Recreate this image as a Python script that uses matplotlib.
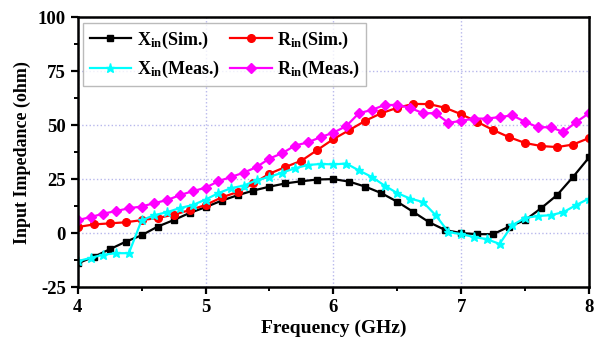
import matplotlib

matplotlib.use("Agg")
import matplotlib.pyplot as plt
from matplotlib.ticker import MultipleLocator

# simulated curves, 0.125 GHz step
freq_sim = [4 + 0.125 * i for i in range(33)]
x_sim = [-14, -11, -7.5, -4, -1, 3, 6, 9.3, 12, 15, 17.5, 19.7, 21.5, 23, 24, 24.8, 25,
         23.8, 21.5, 18.5, 14.5, 9.8, 5, 1.4, 0, -0.5, -0.5, 3, 6, 11.5, 17.6, 26, 35]
r_sim = [2.8, 4, 4.5, 5, 6, 7, 8.5, 10.6, 13, 16.5, 19, 23, 27.5, 30.6, 33.5, 38.5, 43.5,
         47.7, 52, 55.5, 58, 59.8, 59.7, 58, 55, 51.5, 47.7, 44.4, 41.7, 40.3, 39.8, 41, 44]

# measured curves, 0.1 GHz step
freq_meas = [round(4 + 0.1 * i, 1) for i in range(41)]
x_meas = [-13, -11.5, -10, -9.3, -9.3, 6, 8.3, 9.7, 11.6, 13, 15.5, 18.5, 20.8, 22, 24.5,
          26, 28, 30, 31.5, 32, 31.8, 32.2, 29, 26, 22, 18.5, 16, 14.4, 8.3, 0.5, -0.5,
          -1.8, -2.8, -5, 3.7, 7, 7.9, 8.3, 9.7, 13, 16]
r_meas = [6, 7.4, 9, 10.2, 11.5, 12.3, 13.9, 15.3, 17.6, 19.4, 21, 24, 26, 28, 30.6, 34.5,
          37, 40.5, 42, 44.4, 46.5, 49.5, 55.5, 57, 59.3, 59.3, 58, 55.5, 55.5, 51, 52, 53,
          53, 53.7, 54.5, 51.5, 49, 49, 46.8, 51.4, 55.5]

plt.rcParams["font.family"] = "Liberation Serif"
plt.rcParams["font.weight"] = "bold"
plt.rcParams["axes.unicode_minus"] = False
plt.rcParams["mathtext.fontset"] = "custom"
plt.rcParams["mathtext.rm"] = "Liberation Serif:bold"
plt.rcParams["mathtext.it"] = "Liberation Serif:bold"
plt.rcParams["mathtext.bf"] = "Liberation Serif:bold"

fig = plt.figure(figsize=(5.98, 3.48), dpi=100)
ax = fig.add_axes([0.130, 0.175, 0.855, 0.776])

h1, = ax.plot(freq_sim, x_sim, color="black", marker="s", markersize=5, linewidth=1.6,
              label="X$_{in}$(Sim.)")
h2, = ax.plot(freq_sim, r_sim, color="red", marker="o", markersize=5.5, linewidth=1.6,
              label="R$_{in}$(Sim.)")
h3, = ax.plot(freq_meas, x_meas, color="cyan", marker="*", markersize=6.5, linewidth=1.6,
              label="X$_{in}$(Meas.)")
h4, = ax.plot(freq_meas, r_meas, color="magenta", marker="D", markersize=5, linewidth=1.6,
              label="R$_{in}$(Meas.)")

ax.set_xlim(4, 8)
ax.set_ylim(-25, 100)
ax.xaxis.set_major_locator(MultipleLocator(1))
ax.xaxis.set_minor_locator(MultipleLocator(0.5))
ax.yaxis.set_major_locator(MultipleLocator(25))
ax.yaxis.set_minor_locator(MultipleLocator(12.5))
ax.tick_params(which="major", direction="out", length=5, width=1.6, labelsize=13.5)
ax.tick_params(which="minor", direction="out", length=3, width=1.4)
for s in ax.spines.values():
    s.set_linewidth(1.8)
ax.grid(True, which="major", linestyle=":", color="#b8b8ec", linewidth=1.0)

ax.set_xlabel("Frequency (GHz)", fontsize=14, fontweight="bold", labelpad=3)
ax.set_ylabel("Input Impedance (ohm)", fontsize=13, fontweight="bold", labelpad=5)

# column-first fill: order so rows read Sim. / Meas.
leg = ax.legend([h1, h3, h2, h4], [h.get_label() for h in (h1, h3, h2, h4)],
                ncol=2, loc="upper left", bbox_to_anchor=(0.004, 0.99), fontsize=13,
                numpoints=1, handlelength=2.3, columnspacing=0.6, frameon=True,
                fancybox=False, edgecolor="#aaaaaa", borderpad=0.35, labelspacing=0.45,
                handletextpad=0.3, borderaxespad=0.2)
leg.get_frame().set_linewidth(1.0)

fig.savefig("out.png")
